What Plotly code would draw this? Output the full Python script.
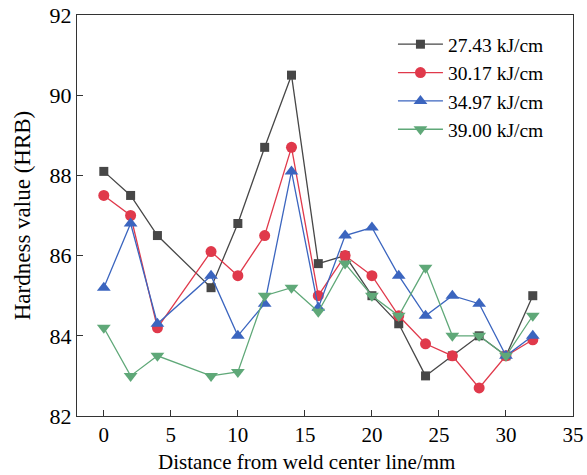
import plotly.graph_objects as go

x = [0, 2, 4, 8, 10, 12, 14, 16, 18, 20, 22, 24, 26, 28, 30, 32]
s1 = [88.1, 87.5, 86.5, 85.2, 86.8, 88.7, 90.5, 85.8, 86.0, 85.0, 84.3, 83.0, 83.5, 84.0, 83.5, 85.0]
s2 = [87.5, 87.0, 84.2, 86.1, 85.5, 86.5, 88.7, 85.0, 86.0, 85.5, 84.5, 83.8, 83.5, 82.7, 83.5, 83.9]
s3 = [85.2, 86.8, 84.3, 85.5, 84.0, 84.8, 88.1, 84.7, 86.5, 86.7, 85.5, 84.5, 85.0, 84.8, 83.5, 84.0]
s4 = [84.2, 83.0, 83.5, 83.0, 83.1, 85.0, 85.2, 84.6, 85.8, 85.0, 84.5, 85.7, 84.0, 84.0, 83.5, 84.5]
names = ["27.43 kJ/cm", "30.17 kJ/cm", "34.97 kJ/cm", "39.00 kJ/cm"]
colors = ["#474747", "#e0394b", "#3b65bf", "#5fa878"]
symbols = ["square", "circle", "triangle-up", "triangle-down"]
sizes = [9, 11, 12, 12]
x_title = "Distance from weld center line/mm"
y_title = "Hardness value (HRB)"

fig = go.Figure()
for ys, n, c, sym, sz in zip([s1, s2, s3, s4], names, colors, symbols, sizes):
    fig.add_trace(go.Scatter(x=x, y=ys, name=n, mode="lines+markers",
                             line=dict(color=c, width=1.3),
                             marker=dict(symbol=sym, size=sz, color=c)))

font = "Liberation Serif, Times New Roman, serif"
fig.update_layout(
    width=587, height=475,
    margin=dict(l=77, r=14, t=15, b=59),
    plot_bgcolor="white", paper_bgcolor="white",
    font=dict(family=font, size=19, color="black"),
    showlegend=True,
    legend=dict(x=0.637, y=0.975, xanchor="left", yanchor="top",
                bgcolor="rgba(0,0,0,0)", font=dict(size=19.5), tracegroupgap=0,
                itemwidth=45),
)
fig.add_annotation(text=x_title, xref="paper", yref="paper", x=0.4637, y=-0.115,
                   xanchor="center", yanchor="middle", showarrow=False,
                   font=dict(size=21))
fig.update_xaxes(range=[-2, 35], tickvals=[0, 5, 10, 15, 20, 25, 30, 35],
                 ticks="inside", ticklen=6, tickcolor="#333", showline=True,
                 linecolor="#333", linewidth=1.2, mirror=True, showgrid=False,
                 zeroline=False, automargin=False, tickfont=dict(size=21))
fig.update_yaxes(range=[82, 92], tickvals=[82, 84, 86, 88, 90, 92],
                 ticks="inside", ticklen=6, tickcolor="#333", showline=True,
                 linecolor="#333", linewidth=1.2, mirror=True, showgrid=False,
                 zeroline=False, automargin=False, tickfont=dict(size=22),
                 title=dict(text=y_title, font=dict(size=23), standoff=12))

fig.write_html("out.html", post_script="document.body.style.margin='0';",
               config={"displayModeBar": False})
